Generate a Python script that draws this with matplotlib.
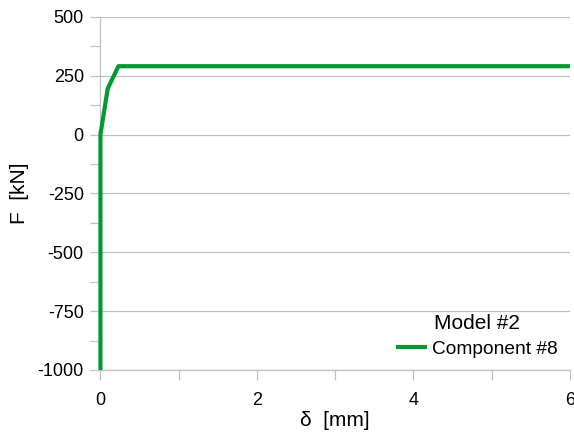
import numpy as np
import matplotlib.pyplot as plt
from matplotlib.ticker import MultipleLocator

plt.rcParams['font.family'] = ['Liberation Sans', 'DejaVu Sans']
plt.rcParams['axes.unicode_minus'] = False

# force-displacement curve of the component
delta = [0.0, 0.0, 0.093, 0.23, 6.0]
force = [-1000, 0, 195, 290, 290]

fig, ax = plt.subplots(figsize=(5.74, 4.41), dpi=100)
fig.subplots_adjust(left=0.175, right=0.993, top=0.962, bottom=0.161)

ax.plot(delta, force, color='#009933', lw=3, label='Component #8',
        solid_capstyle='butt', clip_on=False, zorder=5)

ax.set_xlim(0, 6)
ax.set_ylim(-1000, 500)
ax.xaxis.set_major_locator(MultipleLocator(2))
ax.xaxis.set_minor_locator(MultipleLocator(1))
ax.yaxis.set_major_locator(MultipleLocator(250))
ax.yaxis.set_minor_locator(MultipleLocator(125))
ax.grid(True, axis='y', which='major', color='#c0c0c0', lw=0.9)
ax.set_axisbelow(True)

for s in ['top', 'right']:
    ax.spines[s].set_visible(False)
for s in ['left', 'bottom']:
    ax.spines[s].set_color('#c0c0c0')
    ax.spines[s].set_linewidth(0.9)

ax.tick_params(which='both', color='#c0c0c0', width=0.9, length=7, labelsize=13)
ax.tick_params(axis='x', pad=9)
ax.tick_params(axis='y', pad=5)

ax.set_xlabel('δ  [mm]', fontsize=15, labelpad=1)
ax.set_ylabel('F  [kN]', fontsize=15, labelpad=6)

leg = ax.legend(title='Model #2', loc='lower right', frameon=False, fontsize=13.8,
                title_fontsize=15, handlelength=1.6, handletextpad=0.25,
                borderaxespad=0.35, borderpad=0.3, labelspacing=0.2)
leg.get_title().set_position((0, -4))
leg._legend_box.sep = 8

plt.savefig('out.png', dpi=100)
